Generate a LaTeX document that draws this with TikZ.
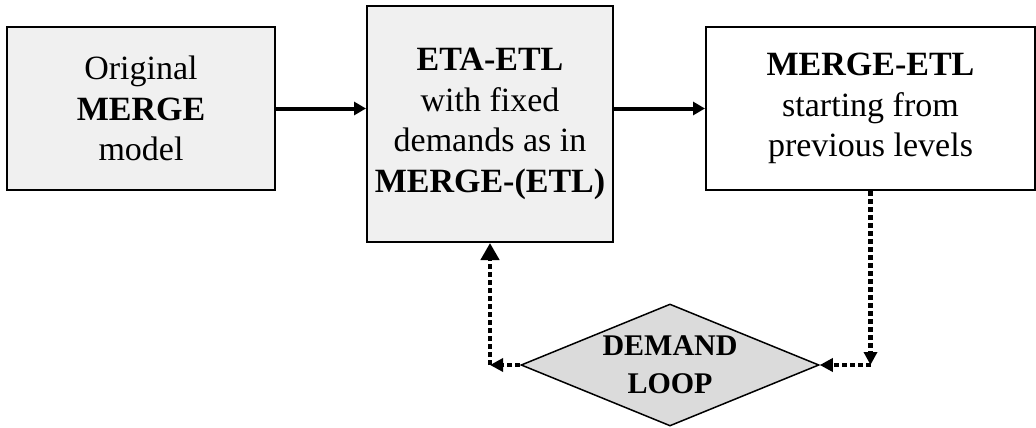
\documentclass[tikz,border=0pt]{standalone}
\usepackage{fontspec}
\setmainfont{Liberation Serif}
\usetikzlibrary{arrows.meta,shapes.geometric}

\begin{document}
\begin{tikzpicture}[x=1pt,y=1pt]
\tikzstyle{stage}=[draw=black, line width=2pt, align=center, inner sep=0pt, font=\fontsize{34}{40.5}\selectfont]
\tikzstyle{grey stage}=[stage, fill=gray!12]
\tikzstyle{flow}=[line width=4pt, -{Triangle[length=12pt,width=13pt]}]
\tikzstyle{loopline}=[line width=4.5pt, dash pattern=on 5pt off 3pt, -{Triangle[length=13pt,width=13pt]}]
\useasboundingbox (0,0) rectangle (1036,-428);
% the three model runs
\node[grey stage, minimum width=268, minimum height=163] (orig) at (141,-108.5) {Original\\\textbf{MERGE}\\model};
\node[grey stage, minimum width=246, minimum height=236] (eta) at (490,-124) {\textbf{ETA-ETL}\\with fixed\\demands as in\\\textbf{MERGE-(ETL)}};
\node[stage, fill=white, minimum width=329, minimum height=163] (merge) at (870.5,-108.5) {\textbf{MERGE-ETL}\\starting from\\previous levels};
% the loop
\node[draw=black, line width=1.5pt, fill=gray!28, shape=diamond, aspect=2.44, inner sep=0pt, minimum width=298, minimum height=122, align=center, font=\fontsize{30}{38}\selectfont\bfseries] (loop) at (670,-365) {DEMAND\\LOOP};
\coordinate (lcorner) at (490,-365);
\coordinate (rcorner) at (870.5,-365);
\draw[flow] (orig.east) -- (eta.west |- orig.east);
\draw[flow] (eta.east |- merge.west) -- (merge.west);
\draw[loopline] (merge.south) -- (rcorner);
\draw[loopline] (rcorner) -- (loop.east);
\draw[loopline] (loop.west) -- (lcorner);
\draw[loopline, -{Triangle[length=17pt,width=18pt]}] (lcorner) -- (eta.south);
\end{tikzpicture}
\end{document}
